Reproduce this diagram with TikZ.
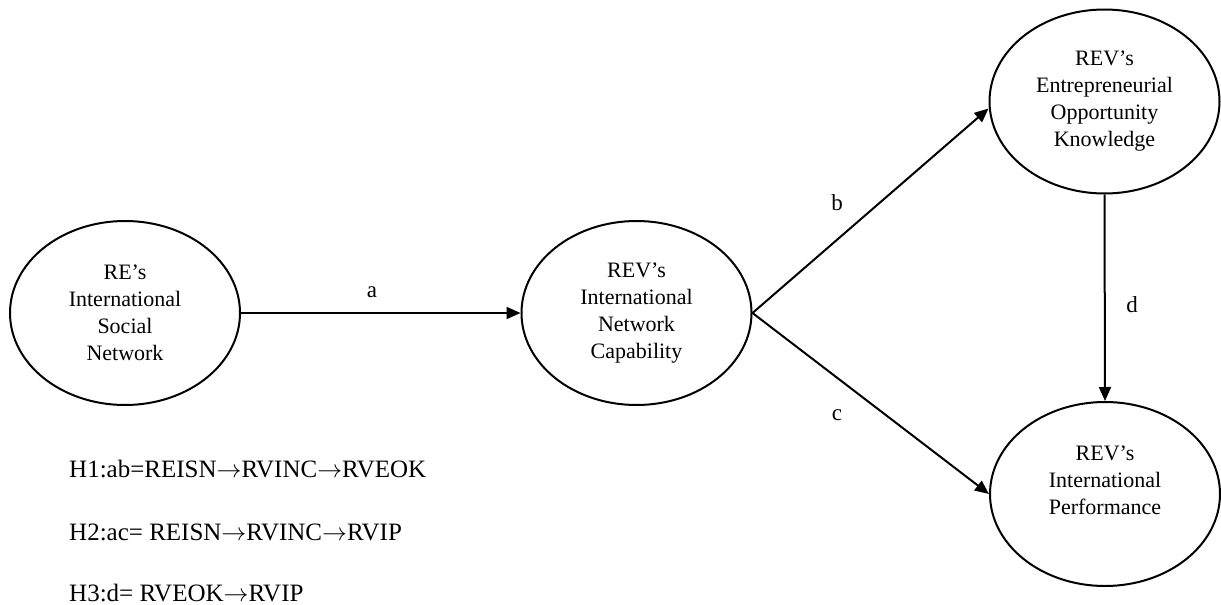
\documentclass[tikz,border=0pt]{standalone}
\usepackage{fontspec}
\setmainfont{Liberation Serif}
\usetikzlibrary{arrows.meta,shapes.geometric}
\newcommand{\ar}{\ensuremath{{\rightarrow}}}
\tikzset{
  ell/.style={draw, ellipse, line width=2pt, minimum width=230pt, minimum height=184pt, inner sep=0pt, align=center, font=\fontsize{22}{27}\selectfont},
  inner/.style={align=center, inner sep=0pt, font=\fontsize{22}{27}\selectfont},
  conn/.style={line width=2pt, -{Triangle[length=14pt,width=12pt]}},
  lab/.style={inner sep=0pt, font=\fontsize{23}{26}\selectfont},
  hyp/.style={anchor=base west, inner sep=0pt, font=\fontsize{25}{28}\selectfont}
}
\begin{document}
\begin{tikzpicture}[x=1pt,y=-1pt]
\useasboundingbox (0,0) rectangle (1221,605);
\node[ell] (isn) at (125,313) {RE’s\\International\\Social\\Network};
\node[ell] (inc) at (636.5,313) {REV’s\\International\\Network\\Capability};
\node[ell] (eok) at (1104.5,101.5) {REV’s\\Entrepreneurial\\Opportunity\\Knowledge};
\node[ell] (ip) at (1105,494) {};
\node[inner] (iptext) at (1105,480) {REV’s\\International\\Performance};
\draw[conn] (isn.east) -- (inc.west);
\draw[conn] (inc.east) -- ([yshift=-7pt]eok.west);
\draw[conn] (inc.east) -- (ip.west);
\draw[conn] (eok.south) -- (ip.north);
\node[lab] (la) at (372,292) {a};
\node[lab] (lb) at (837,203) {b};
\node[lab] (lc) at (837,415) {c};
\node[lab] (ld) at (1132,305) {d};
\node[hyp] (h1) at (69,477) {H1:ab=REISN\ar RVINC\ar RVEOK};
\node[hyp] (h2) at (69,540) {H2:ac= REISN\ar RVINC\ar RVIP};
\node[hyp] (h3) at (69,601) {H3:d= RVEOK\ar RVIP};
\end{tikzpicture}
\end{document}
